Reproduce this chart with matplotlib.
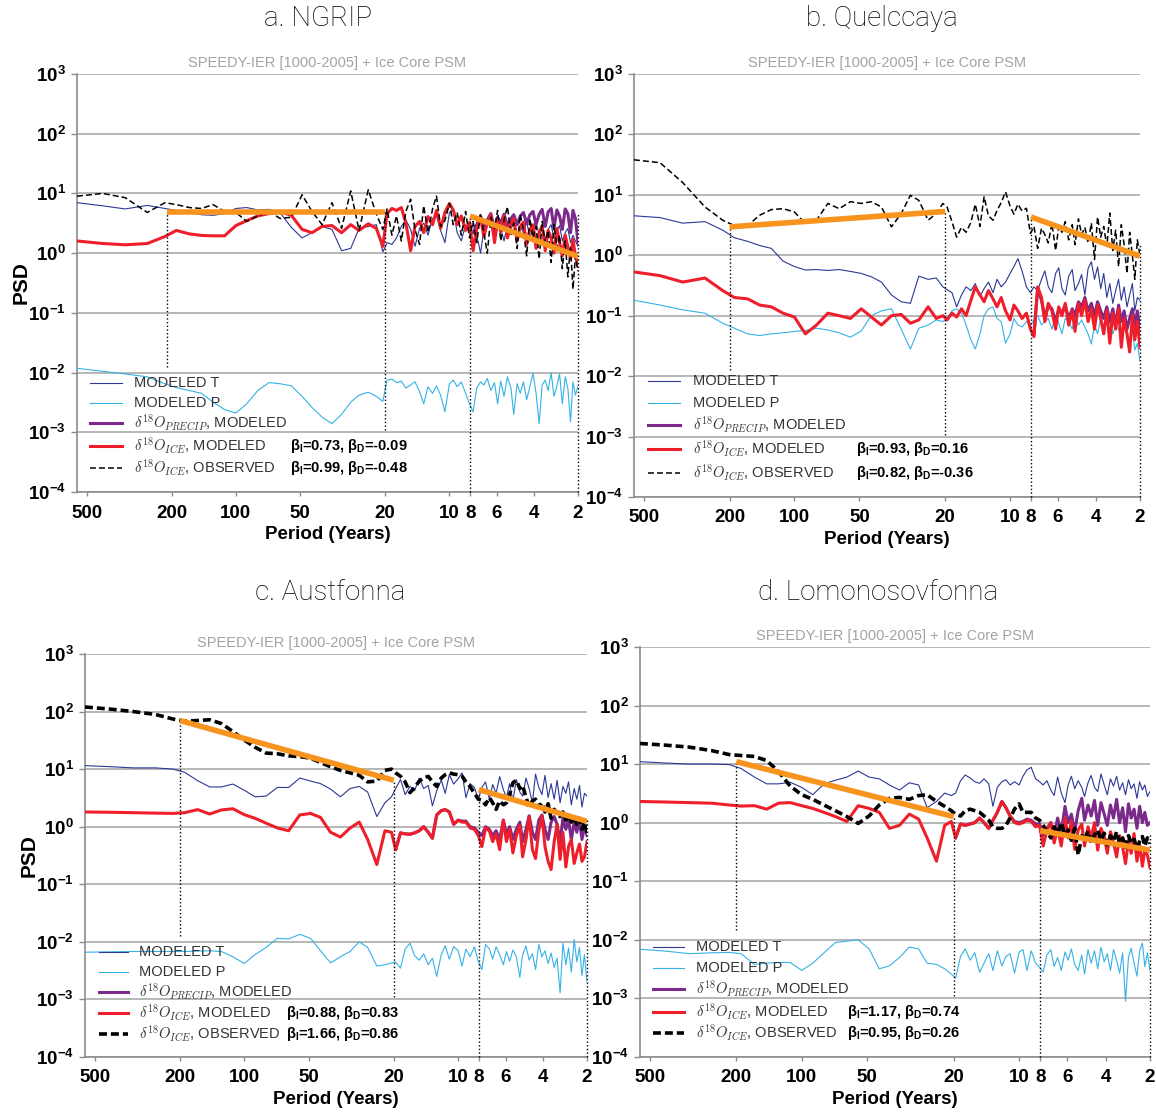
import matplotlib
matplotlib.use('Agg')
import matplotlib.pyplot as plt
from matplotlib.ticker import FixedLocator, FixedFormatter, NullLocator

plt.rcParams['font.family'] = ['Liberation Sans', 'DejaVu Sans']
plt.rcParams['mathtext.fontset'] = 'custom'
plt.rcParams['mathtext.rm'] = 'Liberation Sans'
plt.rcParams['mathtext.it'] = 'Liberation Sans:italic'
plt.rcParams['mathtext.bf'] = 'Liberation Sans:bold'

# period grid (years), shared by all spectra
PERIOD = [555, 420, 330, 260, 215, 190, 165, 145, 128, 113, 100, 89, 79, 70, 62, 55, 49, 44, 39.5, 35.5, 32, 29, 26.5, 24, 22, 20.5,
          19.6, 18.6, 17.7, 16.8, 16.0, 15.2, 14.5, 13.8, 13.2, 12.6, 12.0, 11.5, 11.0, 10.5, 10.0, 9.6, 9.2, 8.8, 8.4, 8.05,
          7.75, 7.45, 7.15, 6.9, 6.65, 6.4, 6.15, 5.95, 5.75, 5.55, 5.35, 5.15, 5.0, 4.82, 4.66, 4.5, 4.35, 4.2, 4.06, 3.93,
          3.8, 3.68, 3.56, 3.45, 3.34, 3.24, 3.14, 3.05, 2.96, 2.87, 2.79, 2.71, 2.64, 2.57, 2.5]

# ---- a. NGRIP ----
NGRIP_T = [7.0, 6.2, 5.5, 6.3, 5.6, 5.2, 4.8, 4.4, 4.3, 4.6, 5.6, 5.8, 5.3, 5.4, 4.7, 2.7, 1.8, 2.2, 2.8, 2.5, 1.1, 1.2, 2.6, 2.8, 3.0, 1.05,
           1.5, 1.4, 1.8, 2.8, 3.6, 2.5, 1.3, 2.6, 3.2, 2.0, 3.8, 4.2, 2.4, 1.5, 4.8, 5.5, 2.2, 1.6, 3.0, 2.4,
           3.2, 2.0, 1.0, 2.5, 3.5, 2.8, 1.9, 3.8, 2.6, 1.6, 3.1, 2.4, 3.6, 1.9, 2.9, 2.2, 3.4, 1.8, 2.6, 3.3,
           2.0, 2.7, 1.7, 2.5, 3.0, 1.8, 2.4, 2.9, 1.6, 2.2, 2.6, 1.5, 2.0, 1.6, 1.3]
NGRIP_P = [0.0118, 0.0105, 0.0095, 0.0085, 0.0065, 0.0056, 0.0050, 0.0045, 0.0032, 0.0024, 0.0021, 0.0030, 0.0050, 0.0068, 0.0065,
           0.0060, 0.0040, 0.0026, 0.0018, 0.0014, 0.0020, 0.0032, 0.0042, 0.0047, 0.0040, 0.0033,
           0.0075, 0.0078, 0.0068, 0.0072, 0.0055, 0.0062, 0.0070, 0.0048, 0.0030, 0.0058, 0.0045, 0.0060, 0.0042, 0.0022,
           0.0065, 0.0075, 0.0058, 0.0070, 0.0045, 0.0030,
           0.0022, 0.0055, 0.0070, 0.0062, 0.0080, 0.0050, 0.0068, 0.0030, 0.0072, 0.0040, 0.0085, 0.0055, 0.0020, 0.0065,
           0.0045, 0.0070, 0.0035, 0.0058, 0.0098, 0.0045, 0.0014, 0.0062, 0.0075, 0.0050, 0.0100, 0.0040, 0.0060, 0.0095,
           0.0030, 0.0085, 0.0055, 0.0015, 0.0070, 0.0042, 0.0060]
NGRIP_PRECIP = [2.2, 3.0, 4.2, 2.8, 3.6, 4.6, 2.5, 4.0, 3.2, 4.5, 2.9, 3.8, 4.4, 3.0, 4.2, 4.8, 3.1, 4.4, 5.0, 3.0,
                4.5, 5.4, 2.8, 4.9, 5.6, 2.6, 5.3, 4.2, 2.5, 5.5, 4.6, 2.2, 5.2, 3.8, 1.5]
NGRIP_ICE = [1.6, 1.45, 1.38, 1.45, 1.9, 2.4, 2.1, 1.98, 1.95, 1.95, 2.9, 3.5, 4.2, 4.6, 4.9, 4.3, 2.5, 2.2, 2.8, 2.9, 2.2, 3.0, 2.4, 3.1, 2.6, 1.3,
             4.6, 5.6, 5.2, 5.8, 3.2, 1.1, 2.8, 3.4, 2.2, 4.1, 3.0, 5.2, 2.6, 4.8, 6.8, 5.3, 3.0, 4.2, 2.4, 3.3,
             1.1, 2.6, 4.0, 1.9, 3.2, 4.4, 1.5, 3.6, 2.3, 4.2, 1.8, 3.0, 3.8, 1.6, 2.8, 3.3, 1.4, 2.5, 3.0, 1.2,
             2.2, 2.9, 1.1, 2.4, 1.8, 1.0, 2.6, 1.5, 0.9, 2.0, 1.3, 0.8, 1.7, 0.9, 0.6]
NGRIP_OBS = [9.0, 10.0, 8.5, 4.8, 7.0, 6.5, 5.8, 5.6, 6.5, 5.0, 4.8, 3.4, 4.2, 5.0, 3.8, 4.0, 9.5, 5.0, 3.0, 7.0, 2.6, 11.0, 2.4, 11.5, 4.5, 2.5,
             5.5, 2.0, 4.2, 1.6, 5.0, 8.0, 2.5, 1.4, 6.2, 2.2, 5.5, 9.0, 2.8, 3.5, 6.8, 3.0, 4.8, 2.0, 5.0, 1.8,
             3.4, 1.5, 4.6, 2.2, 1.0, 4.0, 2.6, 5.2, 1.6, 3.6, 6.0, 2.0, 3.2, 1.2, 4.4, 2.4, 0.9, 3.8, 1.8, 2.8,
             0.8, 3.4, 1.5, 2.4, 0.7, 3.0, 1.2, 2.0, 0.55, 1.6, 0.4, 1.3, 0.25, 0.9, 0.5]
NGRIP_FIT = [(210, 4.9), (20, 4.9), (8, 4.2), (2.5, 0.88)]

# ---- b. Quelccaya ----
QUEL_T = [4.5, 4.2, 3.4, 3.6, 2.6, 1.95, 1.7, 1.45, 1.3, 0.80, 0.65, 0.57, 0.58, 0.56, 0.58, 0.54, 0.50, 0.44, 0.36, 0.22, 0.17, 0.16, 0.45, 0.40, 0.42, 0.30,
          0.27, 0.24, 0.14, 0.22, 0.30, 0.26, 0.34, 0.21, 0.28, 0.36, 0.24, 0.40, 0.30, 0.36, 0.50, 0.65, 0.88, 0.55, 0.30, 0.24,
          0.30, 0.26, 0.40, 0.55, 0.30, 0.24, 0.50, 0.62, 0.28, 0.22, 0.45, 0.58, 0.26, 0.34, 0.48, 0.22, 0.60, 0.78, 0.40, 0.64,
          0.28, 0.50, 0.20, 0.34, 0.16, 0.26, 0.40, 0.18, 0.30, 0.14, 0.22, 0.34, 0.12, 0.20, 0.18]
QUEL_P = [0.18, 0.15, 0.125, 0.11, 0.075, 0.062, 0.05, 0.047, 0.05, 0.052, 0.055, 0.057, 0.062, 0.058, 0.052, 0.044, 0.056, 0.10, 0.12, 0.13, 0.06, 0.028, 0.062, 0.07, 0.085, 0.08,
          0.09, 0.12, 0.13, 0.11, 0.07, 0.04, 0.028, 0.05, 0.10, 0.13, 0.14, 0.09, 0.08, 0.035, 0.05, 0.09, 0.07, 0.065, 0.08, 0.07,
          0.085, 0.10, 0.07, 0.08, 0.09, 0.06, 0.10, 0.075, 0.05, 0.09, 0.08, 0.06, 0.10, 0.07, 0.085, 0.065, 0.05, 0.034, 0.07, 0.05,
          0.09, 0.06, 0.08, 0.075, 0.05, 0.07, 0.06, 0.04, 0.08, 0.05, 0.03, 0.06, 0.027, 0.035, 0.018]
QUEL_PRECIP = [0.05, 0.28, 0.18, 0.09, 0.15, 0.13, 0.08, 0.13, 0.11, 0.15, 0.09, 0.13, 0.10, 0.17, 0.14, 0.20, 0.12, 0.16, 0.10, 0.17,
               0.12, 0.09, 0.14, 0.08, 0.13, 0.07, 0.15, 0.08, 0.12, 0.06, 0.09, 0.13, 0.07, 0.12, 0.06]
QUEL_ICE = [0.53, 0.46, 0.36, 0.42, 0.26, 0.20, 0.19, 0.15, 0.14, 0.11, 0.095, 0.05, 0.07, 0.11, 0.10, 0.09, 0.13, 0.095, 0.07, 0.10, 0.105, 0.075, 0.085, 0.14, 0.09, 0.10,
            0.085, 0.11, 0.095, 0.13, 0.10, 0.18, 0.30, 0.22, 0.17, 0.26, 0.19, 0.14, 0.20, 0.12, 0.085, 0.15, 0.12, 0.09, 0.11, 0.06,
            0.045, 0.30, 0.20, 0.08, 0.16, 0.12, 0.06, 0.14, 0.10, 0.16, 0.07, 0.12, 0.055, 0.16, 0.10, 0.18, 0.08, 0.13, 0.06, 0.15,
            0.09, 0.05, 0.12, 0.035, 0.11, 0.06, 0.13, 0.03, 0.09, 0.05, 0.025, 0.10, 0.04, 0.08, 0.03]
QUEL_OBS = [38, 34, 16, 6.3, 3.8, 3.1, 3.1, 4.6, 5.7, 5.9, 5.2, 3.35, 3.8, 7.2, 5.9, 7.7, 7.2, 7.7, 6.3, 2.95, 4.9, 9.8, 8.1, 3.8, 4.9, 7.2,
            6.3, 3.6, 2.0, 2.9, 2.4, 3.5, 7.0, 3.0, 9.3, 4.5, 3.8, 5.5, 7.4, 11.2, 6.5, 4.8, 7.0, 5.4, 6.0, 2.3,
            3.0, 1.3, 2.8, 2.2, 1.6, 3.4, 1.2, 3.0, 2.4, 3.6, 1.8, 3.2, 1.5, 4.0, 2.2, 2.9, 1.6, 3.4, 0.85, 4.3,
            2.0, 3.0, 1.4, 5.0, 1.2, 2.6, 0.65, 3.2, 1.5, 0.5, 2.4, 1.0, 0.4, 1.8, 1.0]
QUEL_FIT = [(200, 2.95), (20, 5.3), (8, 4.3), (2.5, 0.97)]

# ---- c. Austfonna ----
AUST_T = [11.5, 11.0, 10.5, 10.5, 10.0, 8.8, 6.3, 4.9, 4.9, 5.5, 4.3, 3.3, 3.4, 4.8, 4.8, 7.0, 6.2, 5.6, 4.5, 3.3, 4.6, 5.0, 4.0, 1.5, 2.6, 3.3,
          4.6, 6.6, 3.6, 5.0, 4.2, 7.0, 4.6, 5.2, 2.3, 4.2, 6.5, 3.8, 8.0, 5.5, 6.8, 8.6, 3.2, 5.6, 4.8, 3.0,
          4.8, 6.0, 3.0, 5.4, 3.8, 7.4, 4.4, 3.2, 5.6, 2.8, 6.6, 4.0, 3.4, 7.0, 4.6, 2.6, 8.2, 4.8, 3.6, 7.8,
          3.2, 5.6, 3.0, 6.4, 2.6, 5.0, 3.8, 6.0, 2.4, 4.6, 3.0, 5.2, 2.2, 3.8, 3.4]
AUST_P = [0.0066, 0.0067, 0.0068, 0.0068, 0.0068, 0.0068, 0.0069, 0.0070, 0.0068, 0.0055, 0.0042, 0.0060, 0.0080, 0.0115, 0.0112,
          0.0135, 0.0115, 0.0070, 0.0043, 0.0055, 0.0068, 0.0100, 0.0080, 0.0038, 0.0040, 0.0043,
          0.0045, 0.0035, 0.0075, 0.0095, 0.0058, 0.0048, 0.0062, 0.0040, 0.0052, 0.0025, 0.0060, 0.0085, 0.0050, 0.0083,
          0.0070, 0.0038, 0.0075, 0.0055, 0.0082, 0.0045,
          0.0033, 0.0090, 0.0075, 0.0050, 0.0082, 0.0060, 0.0040, 0.0068, 0.0046, 0.0072, 0.0055, 0.0024, 0.0060, 0.0085,
          0.0048, 0.0062, 0.0033, 0.0090, 0.0055, 0.0070, 0.0042, 0.0064, 0.0036, 0.0052, 0.0013, 0.0095, 0.0040, 0.0078,
          0.0030, 0.0110, 0.0045, 0.0080, 0.0026, 0.0060, 0.0020]
AUST_PRECIP = [0.4, 0.78, 0.75, 0.74, 0.78, 0.85, 1.0, 0.8, 0.63, 1.6, 1.9, 1.98, 1.8, 1.1, 1.3, 1.25, 1.25, 1.0, 0.95, 0.8,
               0.7, 1.0, 0.9, 0.7, 0.85, 0.6, 1.3, 0.75, 1.0, 0.6, 0.9, 1.2, 0.55, 0.9, 1.55, 0.8, 0.6, 1.3, 1.6, 0.9,
               0.6, 1.2, 1.5, 1.1, 0.55, 1.4, 0.9, 1.3, 0.6, 1.2, 0.8, 1.3, 0.6, 1.0, 0.7]
AUST_ICE = [1.8, 1.78, 1.75, 1.72, 1.7, 1.75, 1.98, 1.66, 1.95, 2.05, 1.62, 1.4, 1.15, 0.95, 0.85, 1.6, 1.7, 1.45, 0.8, 0.66, 0.95, 1.2, 0.6, 0.22, 0.85, 0.8,
            0.4, 0.78, 0.75, 0.74, 0.78, 0.85, 1.0, 0.8, 0.63, 1.6, 1.9, 1.98, 1.8, 1.1, 1.3, 1.2, 1.2, 0.95, 0.9, 0.7,
            0.45, 0.95, 0.85, 0.55, 0.75, 0.40, 1.3, 0.55, 0.90, 0.35, 0.70, 1.05, 0.30, 0.60, 1.50, 0.40, 0.28, 0.85, 1.55, 0.45,
            0.25, 0.18, 0.55, 1.1, 0.27, 0.80, 0.20, 0.45, 0.60, 0.23, 0.35, 0.50, 0.25, 0.30, 0.55]
AUST_OBS = [120, 110, 100, 89, 74, 68, 70, 72, 62, 45, 32, 24, 19, 18.5, 17, 16.5, 15.5, 13, 11, 9.5, 8.6, 7.8, 6.0, 6.2, 9.5, 10.0,
            8.6, 7.5, 6.0, 3.9, 4.8, 6.2, 7.0, 7.5, 6.0, 5.0, 7.0, 8.0, 8.6, 8.2, 8.0, 7.6, 6.0, 5.0, 3.8, 3.0,
            2.9, 2.4, 3.2, 2.6, 2.0, 2.8, 2.4, 2.6, 3.6, 5.8, 6.4, 4.6, 5.2, 3.2, 2.2, 2.8, 3.0, 2.2, 2.6, 1.8,
            2.5, 1.4, 2.0, 1.7, 1.5, 1.8, 1.3, 1.6, 1.2, 1.5, 1.1, 1.4, 0.9, 1.2, 0.8]
AUST_FIT = [(200, 70), (20, 6.4), (8, 4.4), (2.5, 1.24)]

# ---- d. Lomonosovfonna ----
LOMO_T = [11, 10.4, 10.0, 10.0, 9.8, 8.4, 6.0, 4.6, 4.6, 4.9, 4.0, 3.0, 4.6, 5.3, 6.0, 7.6, 6.0, 5.6, 4.4, 3.6, 4.8, 4.4, 1.8, 2.3, 3.2, 2.9,
          3.2, 5.2, 6.5, 5.8, 5.0, 4.7, 5.6, 4.6, 1.9, 4.0, 5.0, 5.4, 4.4, 5.0, 4.4, 6.2, 8.0, 8.8, 5.6, 5.0,
          4.4, 5.2, 3.6, 2.9, 6.0, 3.2, 2.2, 4.4, 6.2, 3.8, 5.2, 4.0, 2.8, 4.8, 6.4, 4.0, 3.4, 6.8, 4.4, 3.0,
          5.6, 4.2, 6.2, 3.6, 4.8, 3.0, 5.4, 3.8, 4.6, 2.6, 5.0, 3.6, 4.4, 2.8, 3.4]
LOMO_P = [0.0069, 0.0064, 0.0058, 0.0060, 0.0061, 0.0058, 0.0038, 0.0040, 0.0041, 0.0041, 0.0030, 0.0040, 0.0060, 0.0090, 0.0095,
          0.0100, 0.0070, 0.0032, 0.0036, 0.0050, 0.0075, 0.0070, 0.0040, 0.0038, 0.0032, 0.0026,
          0.0022, 0.0052, 0.0070, 0.0045, 0.0060, 0.0028, 0.0040, 0.0058, 0.0030, 0.0065, 0.0036, 0.0052, 0.0058, 0.0027,
          0.0062, 0.0068, 0.0030, 0.0065, 0.0040, 0.0034,
          0.0028, 0.0055, 0.0068, 0.0035, 0.0050, 0.0030, 0.0062, 0.0045, 0.0070, 0.0038, 0.0030, 0.0055, 0.0026, 0.0068,
          0.0040, 0.0065, 0.0032, 0.0075, 0.0042, 0.0058, 0.0030, 0.0068, 0.0045, 0.0027, 0.0060, 0.0009, 0.0050, 0.0072,
          0.0040, 0.0024, 0.0065, 0.0088, 0.0035, 0.0060, 0.0030]
LOMO_PRECIP = [0.55, 0.95, 0.9, 0.95, 1.0, 1.2, 1.0, 0.8, 1.1, 1.5, 2.3, 1.8, 1.3, 1.05, 1.0, 1.05, 1.15, 1.1, 0.95, 0.95,
               0.6, 0.8, 1.0, 0.6, 1.2, 0.7, 1.9, 1.0, 1.4, 0.7, 1.6, 2.6, 1.1, 2.0, 1.3, 2.4, 0.9, 2.2, 1.4, 0.9,
               2.0, 1.2, 2.5, 1.0, 1.8, 0.7, 2.1, 1.2, 1.7, 0.8, 1.9, 1.0, 1.5, 0.9, 1.0]
LOMO_ICE = [2.3, 2.25, 2.2, 2.15, 2.0, 1.92, 1.95, 1.7, 2.15, 2.2, 1.95, 1.75, 1.5, 1.27, 1.05, 1.95, 1.75, 1.5, 0.8, 0.9, 1.4, 1.15, 0.55, 0.22, 0.9, 1.05,
            0.55, 0.95, 0.9, 0.95, 1.0, 1.2, 1.0, 0.8, 1.1, 1.5, 2.3, 1.8, 1.3, 1.0, 0.95, 1.0, 1.1, 1.05, 0.85, 0.9,
            0.40, 0.75, 1.0, 0.45, 0.80, 0.40, 1.2, 0.55, 1.05, 0.35, 0.75, 0.95, 0.40, 0.85, 0.55, 1.0, 0.34, 0.80, 0.58, 0.30,
            0.70, 0.45, 0.26, 0.60, 0.38, 0.20, 0.50, 0.30, 0.65, 0.22, 0.42, 0.18, 0.35, 0.28, 0.17]
LOMO_OBS = [22.5, 21, 19.5, 17, 14.5, 14.0, 13.5, 11.5, 7.5, 4.2, 3.0, 2.5, 2.0, 1.6, 1.27, 0.97, 1.3, 2.0, 2.6, 2.7, 2.5, 2.9, 3.0, 2.3, 1.9, 1.6,
            1.4, 1.3, 1.6, 1.7, 1.6, 1.5, 1.3, 1.1, 0.85, 0.8, 0.8, 0.9, 1.2, 1.7, 2.1, 1.5, 1.5, 1.5, 1.2, 1.1,
            0.9, 0.7, 0.55, 0.85, 0.65, 1.0, 0.6, 0.75, 0.5, 0.8, 0.28, 0.6, 0.5, 0.72, 0.45, 0.62, 0.75, 0.5, 0.66, 0.42,
            0.6, 0.48, 0.7, 0.44, 0.55, 0.38, 0.6, 0.45, 0.52, 0.36, 0.48, 0.58, 0.40, 0.55, 0.44]
LOMO_FIT = [(200, 11.0), (20, 1.27), (8, 0.73), (2.5, 0.34)]

TITLES = ['a. NGRIP', 'b. Quelccaya', 'c. Austfonna', 'd. Lomonosovfonna']
SUBTITLE = 'SPEEDY-IER [1000-2005] + Ice Core PSM'
BETA_I_MOD = [0.73, 0.93, 0.88, 1.17]
BETA_D_MOD = [-0.09, 0.16, 0.83, 0.74]
BETA_I_OBS = [0.99, 0.82, 1.66, 0.95]
BETA_D_OBS = [-0.48, -0.36, 0.86, 0.26]
DOT_TOP_END = [4.7, 1.6, 1.3, 0.65]

LABELS = ['MODELED T', 'MODELED P', r'$\delta^{18}O_{PRECIP}$, MODELED',
          r'$\delta^{18}O_{ICE}$, MODELED', r'$\delta^{18}O_{ICE}$, OBSERVED']

C_T = '#2b3896'
C_P = '#35b2e6'
C_PRECIP = '#7b2a8c'
C_ICE = '#ee1f2b'
C_FIT = '#f7941e'
C_GRID = '#a3a3a3'

# layout (figure fractions / axes fractions)
AX_RECTS = [[0.0666, 0.5591, 0.4334, 0.3746],
            [0.5484, 0.5547, 0.4377, 0.3790],
            [0.0735, 0.0529, 0.4343, 0.3611],
            [0.5536, 0.0529, 0.4412, 0.3674]]
TITLE_POS = [(0.275, 0.983), (0.763, 0.983), (0.286, 0.469), (0.760, 0.469)]
LEGEND_POS = [(0.026, 0.090, 0.114, 0.425, [0.261, 0.213, 0.165, 0.110, 0.057]),
              (0.028, 0.091, 0.117, 0.439, [0.274, 0.222, 0.170, 0.113, 0.057]),
              (0.028, 0.086, 0.107, 0.400, [0.261, 0.211, 0.161, 0.109, 0.057]),
              (0.025, 0.086, 0.110, 0.406, [0.268, 0.217, 0.166, 0.110, 0.059])]


def draw_panel(ax, t, p, precip, ice, obs, fit, i):
    heavy = i >= 2
    obs_style = dict(color='k', lw=2.6, dashes=(2.2, 1.1)) if heavy else dict(color='k', lw=1.1, dashes=(3.9, 2.0))
    styles = [dict(color=C_T, lw=0.8), dict(color=C_P, lw=0.8), dict(color=C_PRECIP, lw=2.2),
              dict(color=C_ICE, lw=2.2), obs_style]

    ax.plot(PERIOD, t, zorder=3, **styles[0])
    ax.plot(PERIOD, p, zorder=3, **styles[1])
    ax.plot(PERIOD[-len(precip):], precip, zorder=4, **styles[2])
    ax.plot(PERIOD, ice, zorder=5, **styles[3])
    ax.plot(PERIOD, obs, zorder=6, **styles[4])

    (x0, y0), (x1, y1), (x2, y2), (x3, y3) = fit
    ax.plot([x0, x1], [y0, y1], color=C_FIT, lw=4, zorder=8, solid_capstyle='butt')
    ax.plot([x2, x3], [y2, y3], color=C_FIT, lw=4, zorder=8, solid_capstyle='butt')

    # dotted break lines
    first_bottom = 1.5e-2 if i == 3 else 1.25e-2
    for x, lo, hi in [(x0, first_bottom, y0), (x1, 1.08e-3, y1), (x2, 1e-4, y2), (x3, 1e-4, DOT_TOP_END[i])]:
        ax.plot([x, x], [lo, hi], color='k', lw=1.0, ls=':', zorder=7, clip_on=False)

    ax.set_xscale('log')
    ax.set_yscale('log')
    ax.set_xlim(555, 2.5)
    ax.set_ylim(1e-4, 1e3)

    ax.yaxis.set_major_locator(FixedLocator([10.0 ** k for k in range(-4, 4)]))
    ax.yaxis.set_major_formatter(FixedFormatter([r'$\mathbf{10^{%d}}$' % k for k in range(-4, 4)]))
    ax.yaxis.set_minor_locator(NullLocator())
    ax.xaxis.set_major_locator(FixedLocator([500, 200, 100, 50, 20, 10, 8, 6, 4, 2.5]))
    ax.xaxis.set_major_formatter(FixedFormatter(['500', '200', '100', '50', '20', '10', '8', '6', '4', '2']))
    ax.xaxis.set_minor_locator(NullLocator())
    ax.tick_params(axis='y', length=4, width=1, color='#8c8c8c', pad=4, labelsize=13.5)
    ax.tick_params(axis='x', length=3, width=1, color='#8c8c8c', pad=6, labelsize=13.5)
    for lbl in ax.get_xticklabels():
        lbl.set_fontweight('bold')

    ax.grid(axis='y', color=C_GRID, lw=1.1)
    ax.set_axisbelow(True)
    for s in ['top', 'right']:
        ax.spines[s].set_visible(False)
    for s in ['left', 'bottom']:
        ax.spines[s].set_color('#8c8c8c')
        ax.spines[s].set_linewidth(1.2)

    ax.set_title(SUBTITLE, fontsize=10.5, color='#a3a3a3', pad=5)
    ax.set_xlabel('Period (Years)', fontsize=13.5, fontweight='bold', labelpad=3)
    if i in (0, 2):
        ax.set_ylabel('PSD', fontsize=15, fontweight='bold', labelpad=-2)

    # legend drawn by hand
    hx0, hx1, tx, bx, rows = LEGEND_POS[i]
    for lab, st, ry in zip(LABELS, styles, rows):
        ax.plot([hx0, hx1], [ry, ry], transform=ax.transAxes, zorder=9, **st)
        ax.text(tx, ry, lab, transform=ax.transAxes, va='center', ha='left', fontsize=10.5,
                color='#333333', math_fontfamily='cm', zorder=9)
    beta_fmt = r'$\mathbf{\beta_{I}}$=%.2f, $\mathbf{\beta_{D}}$=%.2f'
    ax.text(bx, rows[3], beta_fmt % (BETA_I_MOD[i], BETA_D_MOD[i]), transform=ax.transAxes,
            va='center', ha='left', fontsize=10.5, fontweight='bold', zorder=9)
    ax.text(bx, rows[4], beta_fmt % (BETA_I_OBS[i], BETA_D_OBS[i]), transform=ax.transAxes,
            va='center', ha='left', fontsize=10.5, fontweight='bold', zorder=9)


fig = plt.figure(figsize=(11.56, 11.16), dpi=100)
panels = [(NGRIP_T, NGRIP_P, NGRIP_PRECIP, NGRIP_ICE, NGRIP_OBS, NGRIP_FIT),
          (QUEL_T, QUEL_P, QUEL_PRECIP, QUEL_ICE, QUEL_OBS, QUEL_FIT),
          (AUST_T, AUST_P, AUST_PRECIP, AUST_ICE, AUST_OBS, AUST_FIT),
          (LOMO_T, LOMO_P, LOMO_PRECIP, LOMO_ICE, LOMO_OBS, LOMO_FIT)]

for i, data in enumerate(panels):
    ax = fig.add_axes(AX_RECTS[i])
    draw_panel(ax, *data, i)
    fig.text(TITLE_POS[i][0], TITLE_POS[i][1], TITLES[i], ha='center', va='center',
             fontsize=20, family=['Roboto', 'Liberation Sans'], fontweight='light')

fig.savefig('out.png', dpi=100)
